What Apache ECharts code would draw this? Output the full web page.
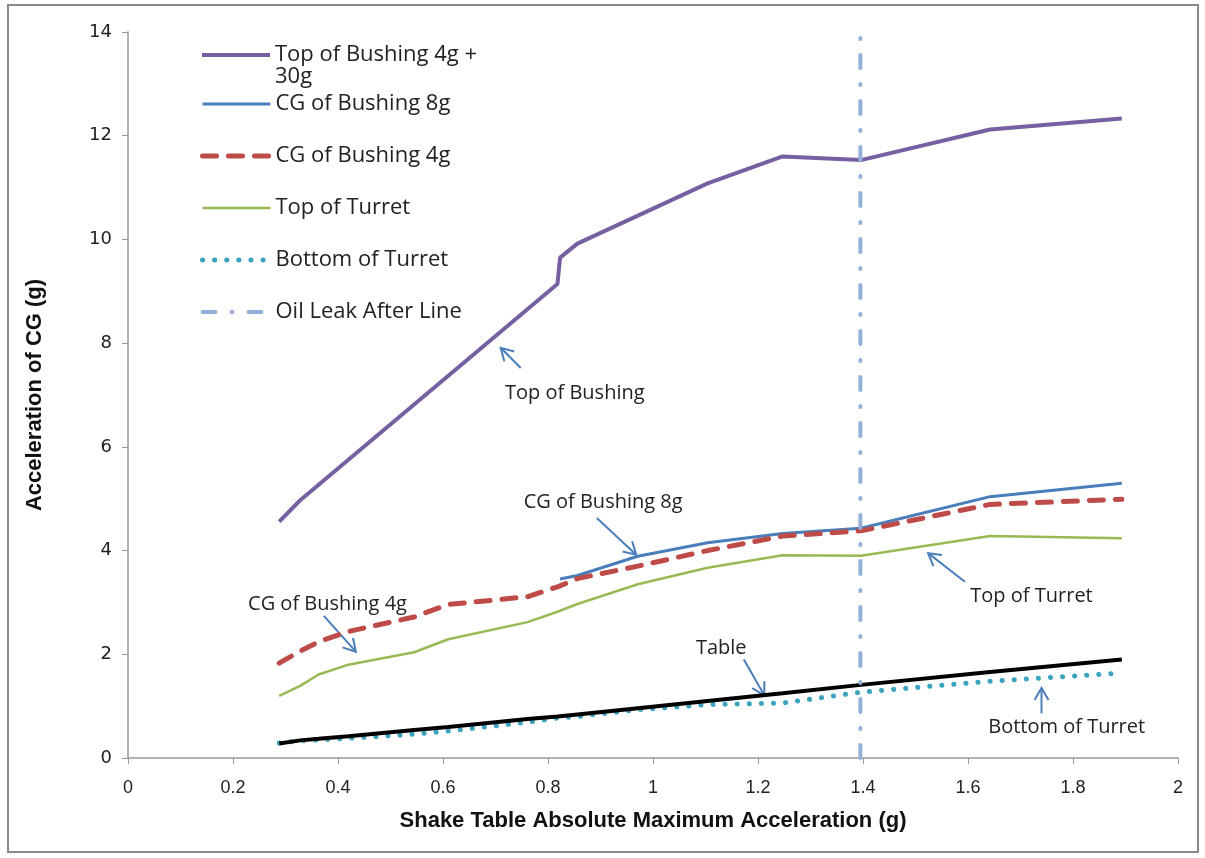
<!DOCTYPE html>
<html>
<head>
<meta charset="utf-8">
<script src="https://cdn.jsdelivr.net/npm/echarts@6/dist/echarts.min.js"></script>
<style>
  html, body { margin: 0; padding: 0; background: #fff; }
  #chart { width: 1205px; height: 858px; }
</style>
</head>
<body>
<div id="chart"></div>
<script>
// shake table acceleration (g) shared by most channels
var shakeX = [0.288, 0.328, 0.363, 0.42, 0.545, 0.61, 0.761, 0.818, 0.856, 0.971, 1.104, 1.247, 1.396, 1.642, 1.893]
var cgBushing4g = [1.83, 2.06, 2.24, 2.44, 2.72, 2.96, 3.11, 3.30, 3.46, 3.70, 4.00, 4.28, 4.38, 4.89, 4.99]
var topTurret = [1.20, 1.39, 1.61, 1.80, 2.04, 2.29, 2.62, 2.82, 2.97, 3.35, 3.67, 3.91, 3.90, 4.28, 4.24]
var bottomTurret = [0.29, 0.33, 0.35, 0.38, 0.46, 0.52, 0.69, 0.77, 0.80, 0.93, 1.03, 1.06, 1.27, 1.48, 1.64]
var tableAcc = [0.28, 0.34, 0.37, 0.42, 0.54, 0.60, 0.75, 0.80, 0.84, 0.96, 1.10, 1.25, 1.41, 1.66, 1.90]

var topBushingX = [0.288, 0.328, 0.818, 0.823, 0.856, 1.104, 1.247, 1.396, 1.642, 1.893]
var topBushing = [4.56, 4.97, 9.14, 9.65, 9.92, 11.08, 11.60, 11.53, 12.12, 12.33]

var cgBushing8gX = [0.823, 0.856, 0.971, 1.104, 1.247, 1.396, 1.642, 1.893]
var cgBushing8g = [3.45, 3.52, 3.89, 4.15, 4.33, 4.43, 5.04, 5.30]

var oilLeakX = 1.395
var xTicks = { min: 0, max: 2, interval: 0.2 }
var yTicks = { min: 0, max: 14, interval: 2 }

// callouts: label centre, arrow tail, arrow head (data units)
var notes = [
  { text: 'Top of Bushing', at: [0.851, 7.04], from: [0.748, 7.52], to: [0.710, 7.91] },
  { text: 'CG of Bushing 8g', at: [0.905, 4.94], from: [0.893, 4.63], to: [0.968, 3.92] },
  { text: 'CG of Bushing 4g', at: [0.380, 2.97], from: [0.373, 2.74], to: [0.434, 2.05] },
  { text: 'Top of Turret', at: [1.721, 3.12], from: [1.594, 3.40], to: [1.524, 3.95] },
  { text: 'Table', at: [1.130, 2.12], from: [1.173, 1.90], to: [1.212, 1.21] },
  { text: 'Bottom of Turret', at: [1.788, 0.60], from: [1.740, 0.86], to: [1.740, 1.35] }
]

function pairs(xs, ys) {
  return xs.map(function (x, i) { return [x, ys[i]] })
}

var chart = echarts.init(document.getElementById('chart'))
var font = 'Open Sans'
var boldFont = 'Liberation Sans Narrow, Liberation Sans'

var option = {
  animation: false,
  backgroundColor: '#fff',
  grid: { left: 128, right: 27, top: 32, bottom: 100 },
  legend: [
    {
      data: ['Top of Bushing 4g + 30g'],
      left: 200, top: 22, padding: 0,
      orient: 'vertical',
      itemWidth: 68, itemHeight: 14,
      itemStyle: { opacity: 0 },
      lineStyle: { width: 'inherit' },
      // blank first line keeps the icon level with the first text line
      formatter: function () { return '\nTop of Bushing 4g +\n30g' },
      textStyle: { fontFamily: font, fontSize: 22, color: '#222', lineHeight: 22 }
    },
    {
      data: ['CG of Bushing 8g', 'CG of Bushing 4g', 'Top of Turret', 'Bottom of Turret', 'Oil Leak After Line'],
      left: 200, top: 93, padding: 0,
      orient: 'vertical',
      itemWidth: 68, itemHeight: 14, itemGap: 30,
      itemStyle: { opacity: 0 },
      lineStyle: { width: 'inherit' },
      textStyle: { fontFamily: font, fontSize: 22, color: '#222', lineHeight: 22 }
    }
  ],
  xAxis: {
    type: 'value',
    min: xTicks.min, max: xTicks.max, interval: xTicks.interval,
    name: 'Shake Table Absolute Maximum Acceleration (g)',
    nameLocation: 'middle', nameGap: 52,
    nameTextStyle: { fontFamily: boldFont, fontWeight: 'bold', fontSize: 22, color: '#111' },
    axisLine: { lineStyle: { color: '#999', width: 1.5 } },
    axisTick: { show: true, length: 6, lineStyle: { color: '#999' } },
    axisLabel: { fontFamily: boldFont, fontSize: 18, color: '#222', margin: 21 },
    splitLine: { show: false }
  },
  yAxis: {
    type: 'value',
    min: yTicks.min, max: yTicks.max, interval: yTicks.interval,
    name: 'Acceleration of CG (g)',
    nameLocation: 'middle', nameGap: 82, nameRotate: 90,
    nameTextStyle: { fontFamily: boldFont, fontWeight: 'bold', fontSize: 22, color: '#111' },
    axisLine: { show: true, lineStyle: { color: '#999', width: 1.5 } },
    axisTick: { show: true, length: 6, lineStyle: { color: '#999' } },
    axisLabel: { fontFamily: 'DejaVu Sans', fontSize: 18, color: '#222', margin: 16 },
    splitLine: { show: false }
  },
  series: [
    {
      name: 'Top of Bushing 4g + 30g', type: 'line', symbol: 'none',
      data: pairs(topBushingX, topBushing),
      lineStyle: { color: '#7560a2', width: 4 }, itemStyle: { color: '#7560a2' }
    },
    {
      name: 'CG of Bushing 8g', type: 'line', symbol: 'none',
      data: pairs(cgBushing8gX, cgBushing8g),
      lineStyle: { color: '#4a7ebb', width: 3 }, itemStyle: { color: '#4a7ebb' }
    },
    {
      name: 'CG of Bushing 4g', type: 'line', symbol: 'none',
      data: pairs(shakeX, cgBushing4g),
      lineStyle: { color: '#be4b48', width: 5, type: [14, 12], cap: 'round' }, itemStyle: { color: '#be4b48' }
    },
    {
      name: 'Top of Turret', type: 'line', symbol: 'none',
      data: pairs(shakeX, topTurret),
      lineStyle: { color: '#98b954', width: 2.5 }, itemStyle: { color: '#98b954' }
    },
    {
      name: 'Bottom of Turret', type: 'line', symbol: 'none',
      data: pairs(shakeX, bottomTurret),
      lineStyle: { color: '#3aa3bd', width: 5, type: [0.1, 12], cap: 'round' }, itemStyle: { color: '#3aa3bd' }
    },
    {
      name: 'Table', type: 'line', symbol: 'none',
      data: pairs(shakeX, tableAcc),
      lineStyle: { color: '#000', width: 4 }, itemStyle: { color: '#000' }
    },
    {
      name: 'Oil Leak After Line', type: 'line', symbol: 'none',
      data: [[oilLeakX, yTicks.min], [oilLeakX, yTicks.max]],
      lineStyle: { color: '#93b0d8', width: 4, type: [13, 16, 1, 16], cap: 'round' }, itemStyle: { color: '#93b0d8' }
    }
  ]
}
chart.setOption(option)

// border + callout arrows, positioned through the axes
var gfx = [{
  type: 'rect', silent: true,
  shape: { x: 8, y: 5, width: 1190, height: 847 },
  style: { fill: 'none', stroke: '#8a8a8a', lineWidth: 2 }
}]
notes.forEach(function (n) {
  var c = chart.convertToPixel({ gridIndex: 0 }, n.at)
  var a = chart.convertToPixel({ gridIndex: 0 }, n.from)
  var b = chart.convertToPixel({ gridIndex: 0 }, n.to)
  var ang = Math.atan2(b[1] - a[1], b[0] - a[0])
  var L = 14, spread = Math.PI / 6
  var p1 = [b[0] - L * Math.cos(ang - spread), b[1] - L * Math.sin(ang - spread)]
  var p2 = [b[0] - L * Math.cos(ang + spread), b[1] - L * Math.sin(ang + spread)]
  gfx.push({
    type: 'text', silent: true, x: c[0], y: c[1],
    style: { text: n.text, fontFamily: font, fontSize: 20, fill: '#222', align: 'center', verticalAlign: 'middle' }
  })
  gfx.push({
    type: 'polyline', silent: true,
    shape: { points: [a, b] },
    style: { stroke: '#4a7ebb', lineWidth: 2, fill: 'none' }
  })
  gfx.push({
    type: 'polyline', silent: true,
    shape: { points: [p1, b, p2] },
    style: { stroke: '#4a7ebb', lineWidth: 2, fill: 'none' }
  })
})
chart.setOption({ graphic: gfx })
</script>
</body>
</html>
